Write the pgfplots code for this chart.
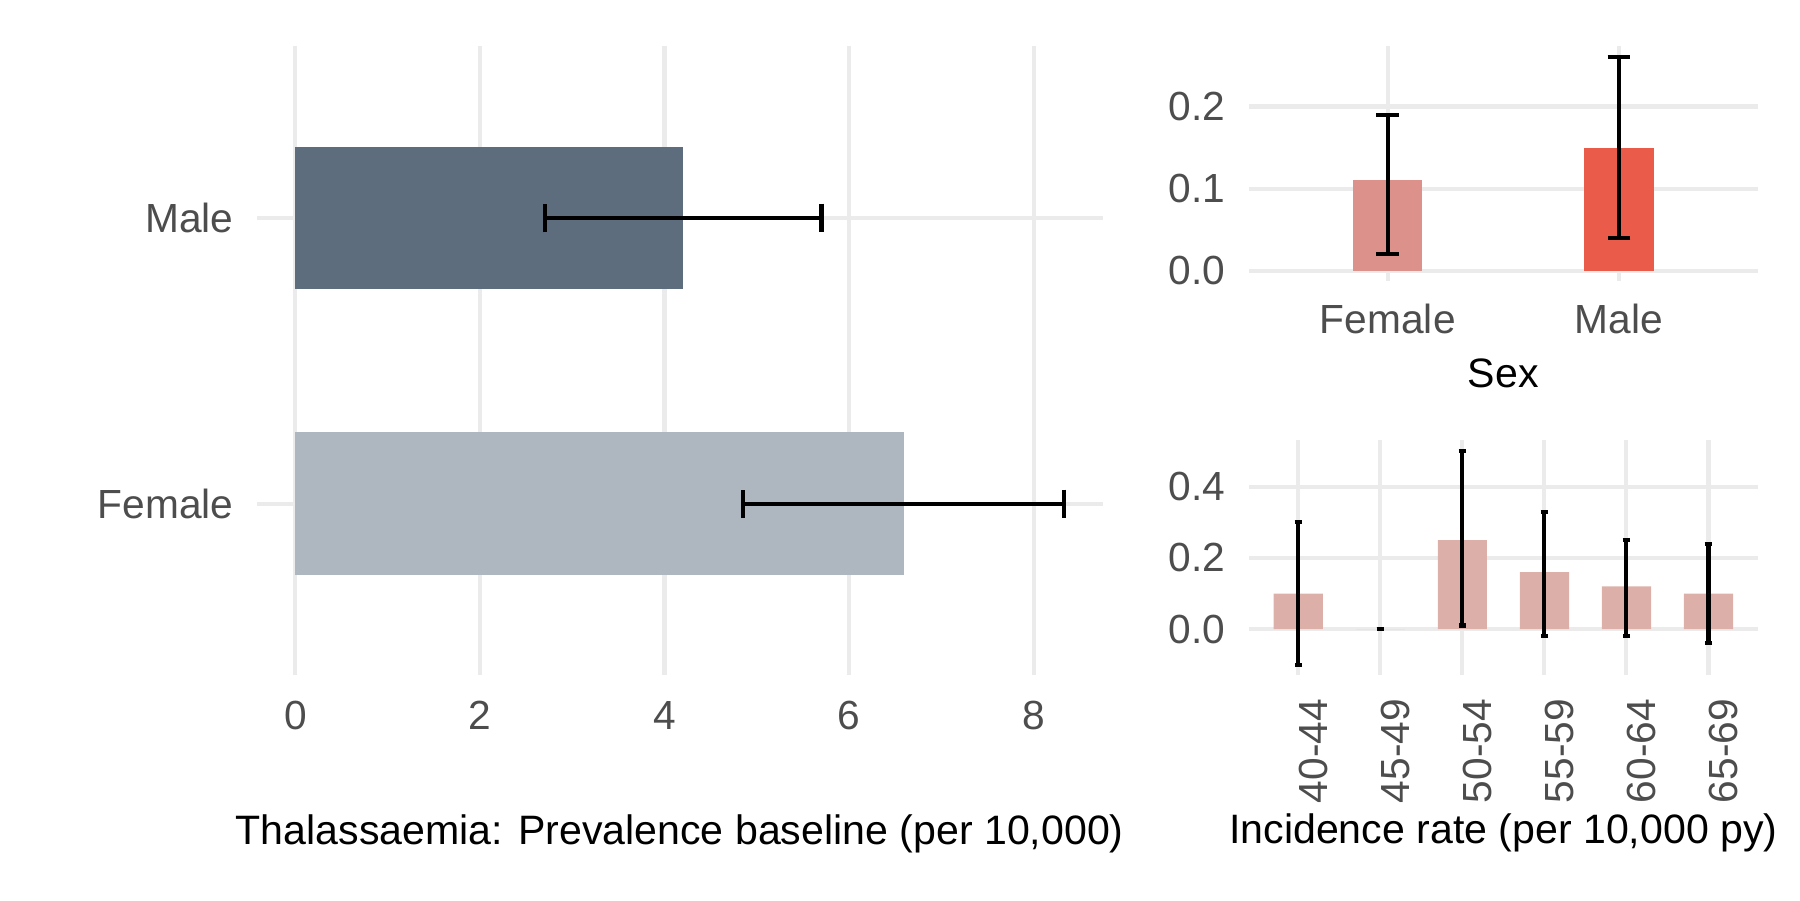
\documentclass[border=0pt]{standalone}
\usepackage{fontspec}
\setmainfont{Liberation Sans}
\usepackage{pgfplots}
\pgfplotsset{compat=1.18}
\usepackage{pgfplotstable}
\definecolor{gridc}{HTML}{EBEBEB}
\definecolor{tickc}{HTML}{4D4D4D}
\definecolor{maleL}{HTML}{5D6D7E}
\definecolor{femaleL}{HTML}{AEB6BF}
\definecolor{femaleR}{HTML}{DC928B}
\definecolor{maleR}{HTML}{EB5B4A}
\definecolor{ageR}{HTML}{DCB0A9}

\pgfplotstableread{
y x ep em
2 4.2 1.5 1.5
}\prevmale
\pgfplotstableread{
y x ep em
1 6.6 1.73 1.75
}\prevfemale
\pgfplotstableread{
x y ep em
1 0.11 0.08 0.09
}\incfemale
\pgfplotstableread{
x y ep em
2 0.15 0.11 0.11
}\incmale
\pgfplotstableread{
x y ep em
1 0.10 0.20 0.20
2 0.00 0.00 0.00
3 0.25 0.25 0.24
4 0.16 0.17 0.18
5 0.12 0.13 0.14
6 0.10 0.14 0.14
}\incage

\pgfplotsset{
  gg/.style={
    scale only axis, anchor=south west,
    axis line style={draw=none}, tick style={draw=none}, major tick length=0pt,
    grid=major, grid style={color=gridc, line width=1pt},
    ticklabel style={font=\fontsize{9.8}{11.8}\selectfont, text=tickc},
    /pgf/number format/assume math mode=true,
    label style={font=\fontsize{9.9}{11.9}\selectfont, text=black},
    yticklabel style={anchor=east, inner sep=0pt, xshift=-5.5pt},
    clip=false,
  },
  /pgfplots/error bars/ebstyle/.style={error bar style={draw=black, line width=1pt, solid},
    error mark options={draw=black, line width=1pt, solid, rotate=90, mark size=#1}},
}

\begin{document}
\begin{tikzpicture}
\useasboundingbox (0,0) rectangle (433.6pt,216.8pt);
% Left panel: prevalence
\begin{axis}[gg, at={(61.9pt,54.1pt)}, width=203.7pt, height=151.5pt,
  xmin=-0.4165, xmax=8.7465, ymin=0.4, ymax=2.6,
  xtick={0,2,4,6,8}, xticklabels={0,2,4,6,8},
  ytick={1,2}, yticklabels={Female,Male},
  xticklabel style={anchor=base, yshift=-13.0pt},
  xlabel={Thalassaemia: Prevalence baseline (per 10,000)},
  xlabel style={at={(axis description cs:0.5,0)}, anchor=base, yshift=-40.7pt},
]
\addplot[xbar, bar width=0.5, bar shift=0pt, fill=maleL, draw=none,
  error bars/.cd, x dir=both, x explicit, ebstyle=3.45pt]
  table[x=x, y=y, x error plus=ep, x error minus=em] {\prevmale};
\addplot[xbar, bar width=0.5, bar shift=0pt, fill=femaleL, draw=none,
  error bars/.cd, x dir=both, x explicit, ebstyle=3.45pt]
  table[x=x, y=y, x error plus=ep, x error minus=em] {\prevfemale};
\end{axis}
% Top right: by sex
\begin{axis}[gg, at={(300.9pt,149.0pt)}, width=122.5pt, height=56.6pt,
  xmin=0.4, xmax=2.6, ymin=-0.013, ymax=0.273,
  xtick={1,2}, xticklabels={Female,Male},
  ytick={0,0.1,0.2}, yticklabels={0.0,0.1,0.2},
  xticklabel style={anchor=base, yshift=-12.5pt},
  xlabel={Sex},
  xlabel style={at={(axis description cs:0.5,0)}, anchor=base, yshift=-25.6pt},
]
\addplot[ybar, bar width=0.3, bar shift=0pt, fill=femaleR, draw=none,
  error bars/.cd, y dir=both, y explicit, ebstyle=2.73pt]
  table[x=x, y=y, y error plus=ep, y error minus=em] {\incfemale};
\addplot[ybar, bar width=0.3, bar shift=0pt, fill=maleR, draw=none,
  error bars/.cd, y dir=both, y explicit, ebstyle=2.73pt]
  table[x=x, y=y, y error plus=ep, y error minus=em] {\incmale};
\end{axis}
% Bottom right: by age
\begin{axis}[gg, at={(300.9pt,54.1pt)}, width=122.5pt, height=56.6pt,
  xmin=0.4, xmax=6.6, ymin=-0.13, ymax=0.53,
  xtick={1,2,3,4,5,6}, xticklabels={40-44,45-49,50-54,55-59,60-64,65-69},
  ytick={0,0.2,0.4}, yticklabels={0.0,0.2,0.4},
  xticklabel style={yshift=-5.5pt, rotate=90, anchor=north east, inner sep=0pt},
  xlabel={Incidence rate (per 10,000 py)},
  xlabel style={at={(axis description cs:0.5,0)}, anchor=base, yshift=-40.5pt},
]
\addplot[ybar, bar width=0.6, bar shift=0pt, fill=ageR, draw=none,
  error bars/.cd, y dir=both, y explicit, ebstyle=0.9pt]
  table[x=x, y=y, y error plus=ep, y error minus=em] {\incage};
\end{axis}
\end{tikzpicture}
\end{document}
